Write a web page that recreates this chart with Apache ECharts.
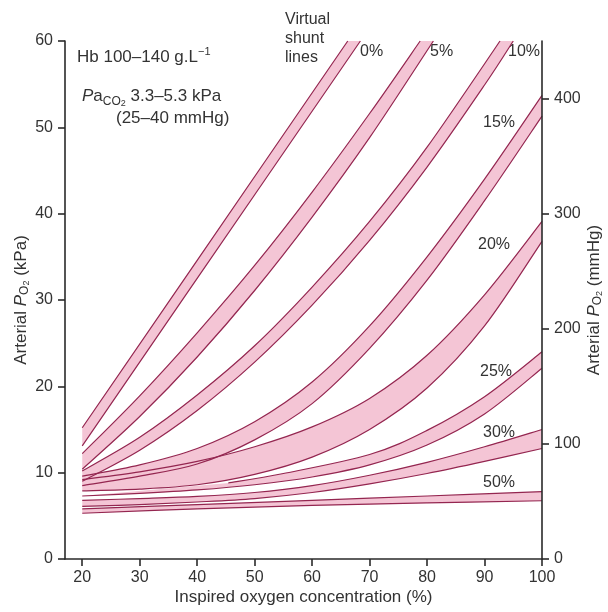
<!DOCTYPE html>
<html><head><meta charset="utf-8">
<script src="https://cdn.jsdelivr.net/npm/echarts@6/dist/echarts.min.js"></script>
<style>html,body{margin:0;padding:0;background:#fff}#c{width:608px;height:612px}</style>
</head><body><div id="c"></div>
<script>
// ---- tick labels ----
const xTicks = [20, 30, 40, 50, 60, 70, 80, 90, 100];
const mmHgTicks = [0, 100, 200, 300, 400];

// ---- virtual shunt bands: [inspired O2 %, arterial PO2 kPa] ----
const shuntNames = ['0%', '5%', '10%', '15%', '20%', '25%', '30%', '50%'];

const upper0 = [[20, 15.2], [40, 34.6], [66.2, 60]];
const lower0 = [[20, 13.1], [40, 32.5], [68.4, 60]];

const upper5 = [[20, 12.2], [30, 18.9], [40, 26.2], [50, 34.0], [60, 42.5], [70, 51.6], [78.8, 60]];
const lower5 = [[20, 10.4], [30, 16.5], [40, 23.4], [50, 31.1], [60, 39.6], [70, 48.8], [81.1, 60]];

const upper10 = [[20, 10.2], [30, 14.1], [40, 19.0], [50, 24.7], [60, 31.5], [70, 39.1], [80, 47.7], [92.7, 60]];
const lower10 = [[20, 9.0], [30, 12.6], [40, 17.2], [50, 22.8], [60, 29.4], [70, 36.9], [80, 45.4], [90, 54.9], [95, 60]];

const upper15 = [[20, 9.6], [30, 10.9], [40, 12.8], [50, 15.9], [60, 20.5], [70, 27.0], [80, 35.0], [90, 44.0], [100, 53.7]];
const lower15 = [[20, 8.5], [30, 9.6], [40, 11.0], [50, 13.8], [60, 18.0], [70, 24.4], [80, 32.3], [90, 41.5], [100, 51.3]];

const upper20 = [[20, 9.2], [30, 10.1], [40, 11.3], [50, 13.0], [60, 15.3], [70, 18.6], [80, 23.6], [90, 30.6], [100, 39.1]];
const lower20 = [[20, 7.9], [30, 8.1], [40, 8.6], [50, 9.8], [60, 11.8], [70, 15.0], [80, 19.8], [90, 27.0], [100, 36.8]];

const upper25 = [[45.4, 8.8], [55, 9.9], [70, 12.1], [80, 14.9], [90, 18.8], [100, 24.0]];
const lower25 = [[20, 7.3], [30, 7.6], [40, 8.0], [50, 8.6], [60, 9.5], [70, 10.9], [80, 13.2], [90, 16.8], [100, 22.1]];

const upper30 = [[20, 6.8], [30, 7.0], [40, 7.25], [50, 7.7], [60, 8.5], [70, 9.7], [80, 11.2], [90, 13.0], [100, 15.0]];
const lower30 = [[20, 6.1], [30, 6.3], [40, 6.6], [50, 7.0], [60, 7.7], [70, 8.7], [80, 9.9], [90, 11.3], [100, 12.8]];

const upper50 = [[20, 5.8], [40, 6.3], [60, 6.8], [80, 7.3], [100, 7.8]];
const lower50 = [[20, 5.3], [40, 5.8], [60, 6.2], [80, 6.5], [100, 6.75]];

const bands = [
  { upper: upper0, lower: lower0 }, { upper: upper5, lower: lower5 },
  { upper: upper10, lower: lower10 }, { upper: upper15, lower: lower15 },
  { upper: upper20, lower: lower20 }, { upper: upper25, lower: lower25 },
  { upper: upper30, lower: lower30 }, { upper: upper50, lower: lower50 }
];

const FONT = 'Liberation Sans, Arial, sans-serif';
const TXT = '#333';
const FILL = '#f4c5d5';
const LINE = '#942650';

function curvePath(pts, cmd) {
  let d = cmd + pts[0][0] + ' ' + pts[0][1];
  for (let i = 0; i < pts.length - 1; i++) {
    const p0 = pts[i - 1] || pts[i], p1 = pts[i], p2 = pts[i + 1], p3 = pts[i + 2] || p2;
    const c1x = p1[0] + (p2[0] - p0[0]) / 6, c1y = p1[1] + (p2[1] - p0[1]) / 6;
    const c2x = p2[0] - (p3[0] - p1[0]) / 6, c2y = p2[1] - (p3[1] - p1[1]) / 6;
    d += ' C' + c1x + ' ' + c1y + ' ' + c2x + ' ' + c2y + ' ' + p2[0] + ' ' + p2[1];
  }
  return d;
}

const bandData = bands.map(b => ({ value: b.lower[0] }));

function renderFill(params, api) {
  const b = bands[params.dataIndex];
  const up = b.upper.map(p => api.coord(p));
  const lo = b.lower.map(p => api.coord(p)).reverse();
  const d = curvePath(up, 'M') + ' ' + curvePath(lo, 'L') + ' Z';
  return { type: 'path', shape: { pathData: d }, style: { fill: FILL, stroke: null }, silent: true };
}
function renderLines(params, api) {
  const b = bands[params.dataIndex];
  const up = b.upper.map(p => api.coord(p));
  const lo = b.lower.map(p => api.coord(p));
  return {
    type: 'group', children: [
      { type: 'path', shape: { pathData: curvePath(up, 'M') }, style: { fill: null, stroke: LINE, lineWidth: 1.2 } },
      { type: 'path', shape: { pathData: curvePath(lo, 'M') }, style: { fill: null, stroke: LINE, lineWidth: 1.2 } }
    ], silent: true
  };
}

const nameRich = {
  i: { fontStyle: 'italic', fontSize: 17, fontFamily: FONT, color: TXT },
  s: { fontSize: 12, fontFamily: FONT, color: TXT, verticalAlign: 'bottom' },
  ss: { fontSize: 9, fontFamily: FONT, color: TXT, verticalAlign: 'bottom' }
};
const axisLineStyle = { color: '#2a2a2a', width: 1.6 };

const chart = echarts.init(document.getElementById('c'), null, { renderer: 'canvas' });
chart.setOption({
  animation: false,
  grid: { left: 65, right: 66, top: 41, bottom: 53, containLabel: false, outerBoundsMode: 'none' },
  xAxis: {
    type: 'value', min: 17, max: 100,
    name: 'Inspired oxygen concentration (%)', nameLocation: 'middle', nameGap: 30, nameMoveOverlap: false,
    nameTextStyle: { fontSize: 17, color: TXT, fontFamily: FONT },
    axisLine: { lineStyle: axisLineStyle },
    axisTick: { show: true, length: 7, lineStyle: axisLineStyle, customValues: xTicks },
    axisLabel: { fontSize: 16, color: TXT, fontFamily: FONT, margin: 11, customValues: xTicks },
    splitLine: { show: false }, z: 5
  },
  yAxis: [{
    type: 'value', min: 0, max: 60, interval: 10, position: 'left',
    name: 'Arterial {i|P}{s|O}{ss|2} (kPa)', nameLocation: 'middle', nameGap: 34, nameMoveOverlap: false,
    nameTextStyle: { fontSize: 17, color: TXT, fontFamily: FONT, lineHeight: 20, rich: nameRich },
    axisLine: { show: true, lineStyle: axisLineStyle },
    axisTick: { show: true, length: 7, lineStyle: axisLineStyle },
    axisLabel: { fontSize: 16, color: TXT, fontFamily: FONT, margin: 12 },
    splitLine: { show: false }, z: 5
  }, {
    type: 'value', min: 0, max: 450, position: 'right',
    name: 'Arterial {i|P}{s|O}{ss|2} (mmHg)', nameLocation: 'middle', nameGap: 42, nameMoveOverlap: false,
    nameTextStyle: { fontSize: 17, color: TXT, fontFamily: FONT, lineHeight: 20, rich: nameRich },
    axisLine: { show: true, lineStyle: axisLineStyle },
    axisTick: { show: true, length: 7, lineStyle: axisLineStyle, customValues: mmHgTicks },
    axisLabel: { fontSize: 16, color: TXT, fontFamily: FONT, margin: 12, customValues: mmHgTicks },
    splitLine: { show: false }, z: 5
  }],
  series: [
    { type: 'custom', name: 'fill', renderItem: renderFill, data: bandData, z: 2, silent: true },
    { type: 'custom', name: 'lines', renderItem: renderLines, data: bandData, z: 3, silent: true }
  ],
  graphic: [
    { type: 'text', x: 285, y: 20, style: { text: 'Virtual', font: '16px ' + FONT, fill: TXT, verticalAlign: 'middle' } },
    { type: 'text', x: 285, y: 39, style: { text: 'shunt', font: '16px ' + FONT, fill: TXT, verticalAlign: 'middle' } },
    { type: 'text', x: 285, y: 58, style: { text: 'lines', font: '16px ' + FONT, fill: TXT, verticalAlign: 'middle' } },
    { type: 'text', x: 360, y: 52, style: { text: shuntNames[0], font: '16px ' + FONT, fill: TXT, verticalAlign: 'middle' } },
    { type: 'text', x: 430, y: 52, style: { text: shuntNames[1], font: '16px ' + FONT, fill: TXT, verticalAlign: 'middle' } },
    { type: 'text', x: 508, y: 52, style: { text: shuntNames[2], font: '16px ' + FONT, fill: TXT, verticalAlign: 'middle' } },
    { type: 'text', x: 483, y: 123, style: { text: shuntNames[3], font: '16px ' + FONT, fill: TXT, verticalAlign: 'middle' } },
    { type: 'text', x: 478, y: 245, style: { text: shuntNames[4], font: '16px ' + FONT, fill: TXT, verticalAlign: 'middle' } },
    { type: 'text', x: 480, y: 372, style: { text: shuntNames[5], font: '16px ' + FONT, fill: TXT, verticalAlign: 'middle' } },
    { type: 'text', x: 483, y: 433, style: { text: shuntNames[6], font: '16px ' + FONT, fill: TXT, verticalAlign: 'middle' } },
    { type: 'text', x: 483, y: 483, style: { text: shuntNames[7], font: '16px ' + FONT, fill: TXT, verticalAlign: 'middle' } },
    { type: 'text', x: 77, y: 57, style: {
      text: 'Hb 100–140 g.L{sup|−1}', font: '17px ' + FONT, fill: TXT, verticalAlign: 'middle', lineHeight: 22,
      rich: { sup: { fontSize: 11, fontFamily: FONT, fill: TXT, verticalAlign: 'top' } } } },
    { type: 'text', x: 82, y: 96, style: {
      text: '{i|P}a{s|CO}{ss|2} 3.3–5.3 kPa', font: '17px ' + FONT, fill: TXT, verticalAlign: 'middle', lineHeight: 24,
      rich: { i: { fontStyle: 'italic', fontSize: 17, fontFamily: FONT, fill: TXT },
              s: { fontSize: 12, fontFamily: FONT, fill: TXT, verticalAlign: 'bottom' },
              ss: { fontSize: 9, fontFamily: FONT, fill: TXT, verticalAlign: 'bottom' } } } },
    { type: 'text', x: 116, y: 118, style: { text: '(25–40 mmHg)', font: '17px ' + FONT, fill: TXT, verticalAlign: 'middle' } }
  ]
});
</script>
</body></html>
